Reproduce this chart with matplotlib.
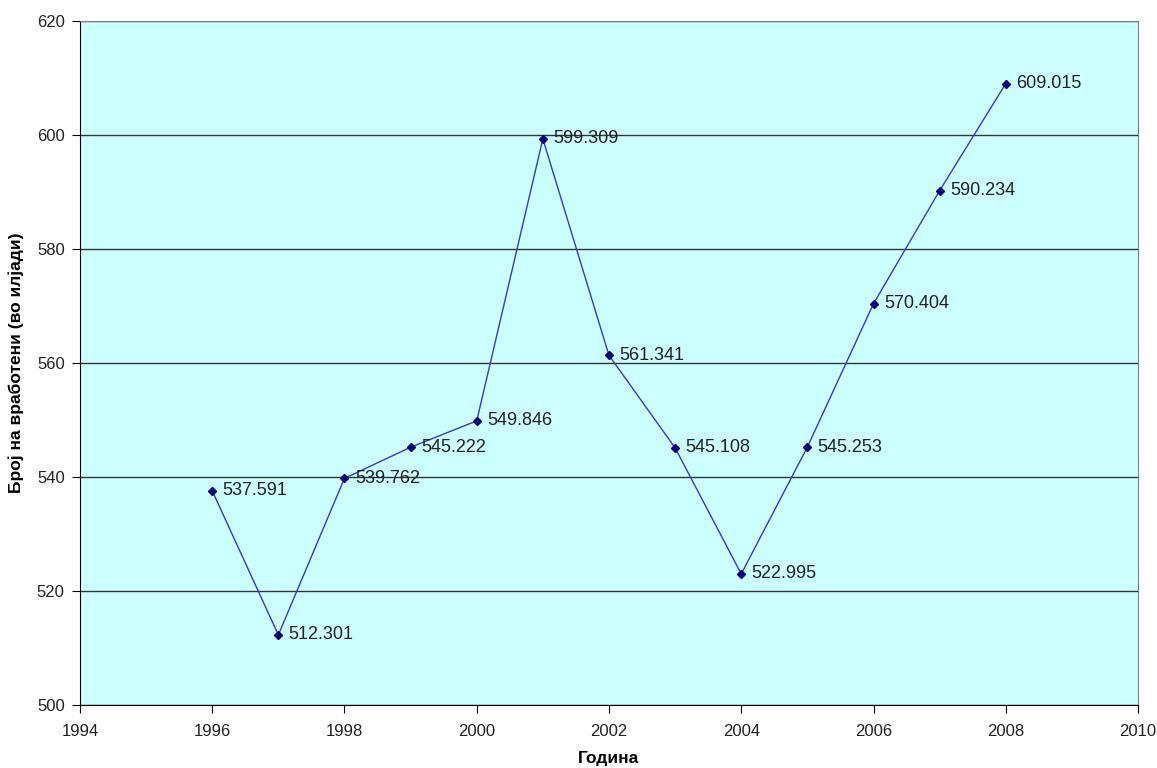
import matplotlib.pyplot as plt

plt.rcParams['font.family'] = ['Liberation Sans', 'DejaVu Sans']

years = [1996, 1997, 1998, 1999, 2000, 2001, 2002, 2003, 2004, 2005, 2006, 2007, 2008]
employed = [537.591, 512.301, 539.762, 545.222, 549.846, 599.309, 561.341,
            545.108, 522.995, 545.253, 570.404, 590.234, 609.015]

fig = plt.figure(figsize=(11.57, 7.68), dpi=100)
ax = fig.add_axes([0.0691, 0.082, 0.9145, 0.8907])
ax.set_facecolor('#CCFFFF')

ax.plot(years, employed, color='#3A3ABF', linewidth=1, marker='D', markersize=4,
        markerfacecolor='#000080', markeredgecolor='#000080', zorder=3)

for x, y in zip(years, employed):
    ax.annotate(f'{y:.3f}', (x, y), xytext=(7.5, 0), textcoords='offset points',
                va='center', ha='left', fontsize=13, color='#222222', zorder=4)

ax.set_xlim(1994, 2010)
ax.set_ylim(500, 620)
ax.set_xticks(range(1994, 2011, 2))
ax.set_yticks(range(500, 621, 20))
ax.yaxis.grid(True, color='#333333', linewidth=1)
ax.set_axisbelow(True)

for s in ['top', 'right']:
    ax.spines[s].set_color('#808080')
for s in ['left', 'bottom']:
    ax.spines[s].set_color('black')

ax.tick_params(direction='out', length=6, labelsize=12, colors='black', labelcolor='#222222')
ax.tick_params(axis='x', pad=8)
ax.tick_params(axis='y', pad=5)

ax.set_xlabel('Година', fontsize=12.5, fontweight='bold', labelpad=8)
ax.set_ylabel('Број на вработени (во илјади)', fontsize=12.5, fontweight='bold', labelpad=9)

plt.savefig('out.png', dpi=100)
